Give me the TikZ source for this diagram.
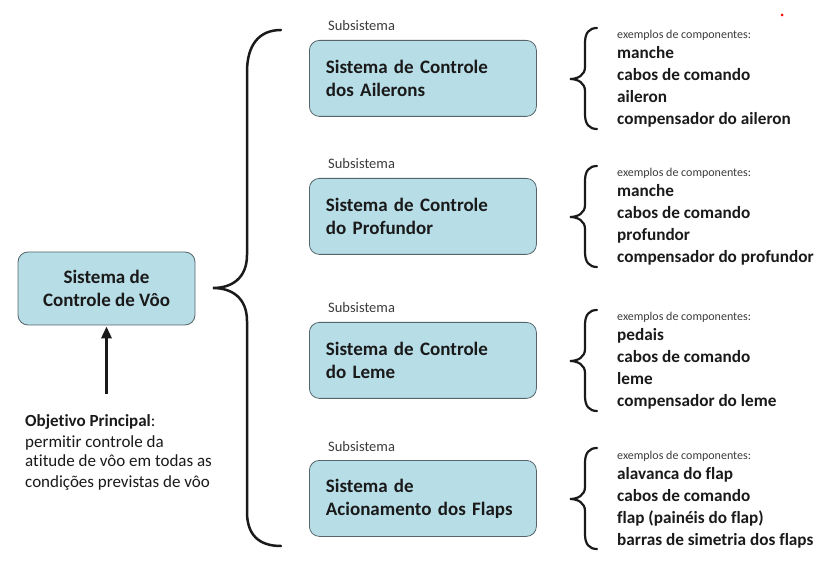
\documentclass[tikz,border=0pt]{standalone}
\usepackage{fontspec}
\setmainfont{Carlito}[Ligatures=NoCommon]
\usetikzlibrary{arrows.meta}
\definecolor{caixa}{HTML}{B7DDE6}
\definecolor{borda}{HTML}{55656B}
\definecolor{texto}{HTML}{1A1A1A}
\tikzset{
  sistema/.style={draw=borda,fill=caixa,rounded corners=10pt,line width=0.8pt,
    minimum width=227pt,minimum height=76pt,text width=194pt,align=left,
    font=\fontsize{19}{23}\selectfont\bfseries,text=texto},
  principal/.style={draw=borda,fill=caixa,rounded corners=10pt,line width=0.8pt,
    minimum width=177pt,minimum height=73pt,align=center,
    font=\fontsize{19}{23}\selectfont\bfseries,text=texto},
  rotulo/.style={inner sep=0pt,font=\fontsize{14.5}{16}\selectfont,text=texto!85},
  exemplo/.style={inner sep=0pt,font=\fontsize{12}{14}\selectfont,text=texto!85},
  lista/.style={inner sep=0pt,font=\fontsize{17.2}{22}\selectfont\bfseries,text=texto},
  objetivo/.style={inner sep=0pt,font=\fontsize{17}{20}\selectfont,text=texto},
  chave/.style={line width=2.2pt,line cap=round,texto},
  seta/.style={line width=3.2pt,-{Triangle[length=12pt,width=10pt]},texto},
}
% chave pequena, #1 = deslocamento vertical
\newcommand\chavinha[1]{%
  \draw[chave,shift={(0,#1)}] (597,28) .. controls (589,28) and (585,33) .. (585,43)
    -- (585,67) .. controls (585,75) and (578,79) .. (570,79)
    .. controls (578,79) and (585,83) .. (585,91)
    -- (585,114) .. controls (585,124) and (589,129) .. (597,129);}

\begin{document}
\begin{tikzpicture}[x=1pt,y=-1pt]

        \fill[white] (0,0) rectangle (836,585);
        \useasboundingbox (0,0) rectangle (836,585);

        \node[principal] (vsc) at (106.5,288.5) {Sistema de\\Controle de Vôo};
        \foreach \t [count=\k from 0] in {{\textbf{Objetivo Principal}:},permitir controle da,
          atitude de vôo em todas as,condições previstas de vôo}
          \node[objetivo,anchor=base west] (obj\k) at (25,427+20*\k) {\t};
        \coordinate (cauda) at (106.5,394);
        \draw[seta,shorten >=1pt] (cauda) -- (vsc.south);

        % chave grande
        \draw[chave,line width=2.5pt] (281,30) .. controls (259,30) and (247,45) .. (247,72)
          -- (247,255) .. controls (247,278) and (232,288) .. (213,288)
          .. controls (232,288) and (247,298) .. (247,321)
          -- (247,512) .. controls (247,535) and (259,546) .. (281,546);

        \foreach \i/\desl/\titulo/\itens in {
          1/0/{Sistema de Controle\\dos Ailerons}/{manche,cabos de comando,aileron,compensador do aileron},
          2/138/{Sistema de Controle\\do Profundor}/{manche,cabos de comando,profundor,compensador do profundor},
          3/282/{Sistema de Controle\\do Leme}/{pedais,cabos de comando,leme,compensador do leme},
          4/420/{Sistema de\\Acionamento dos Flaps}/{alavanca do flap,cabos de comando,flap (painéis do flap),barras de simetria dos flaps}}
        {
          \node[rotulo,anchor=base west] (sub\i) at (328,31+\desl) {Subsistema};
          \node[sistema,anchor=north west] (sis\i) at (309,40+\desl) {\titulo};
          \node[exemplo,anchor=base west] (ex\i) at (617,39+\desl) {exemplos de componentes:};
          \foreach \c [count=\k from 0] in \itens
            \node[lista,anchor=base west] (comp\i-\k) at (617,59+22*\k+\desl) {\c};
          \chavinha{\desl}
        }

        \fill[red] (782,15) circle (1.5pt);

      \end{tikzpicture}
\end{document}
